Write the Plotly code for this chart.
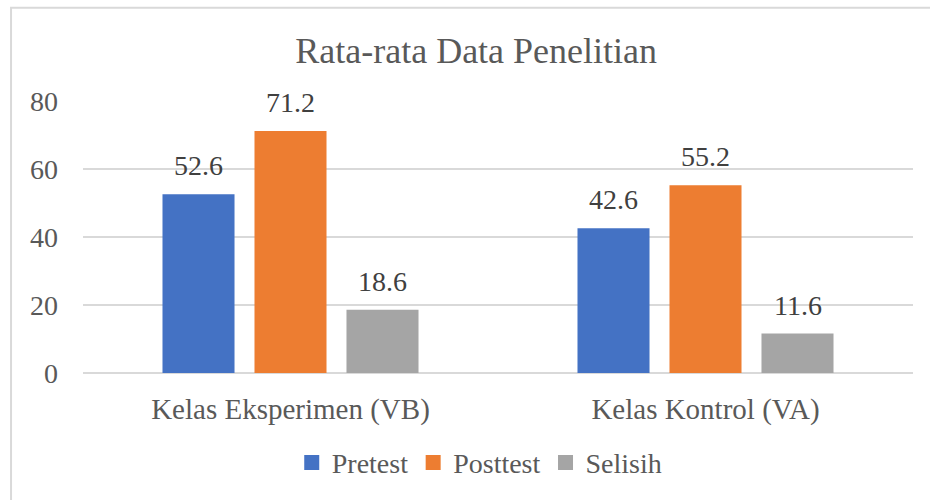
import plotly.graph_objects as go

categories = ["Kelas Eksperimen (VB)", "Kelas Kontrol (VA)"]
series_names = ["Pretest", "Posttest", "Selisih"]
pretest = [52.6, 42.6]
posttest = [71.2, 55.2]
selisih = [18.6, 11.6]
y_ticks = [0, 20, 40, 60, 80]

colors = ["#4472C4", "#ED7D31", "#A5A5A5"]
font_family = "Liberation Serif"

fig = go.Figure()
all_values = [pretest, posttest, selisih]
for name, vals, col in zip(series_names, all_values, colors):
    fig.add_trace(go.Bar(
        name=name, x=categories, y=vals, marker=dict(color=col, line=dict(width=0)),
        showlegend=False,
    ))
# legend entries with square markers
for name, col in zip(series_names, colors):
    fig.add_trace(go.Scatter(
        name=name, x=[None], y=[None], mode="markers",
        marker=dict(symbol="square", size=15, color=col), showlegend=True,
    ))

# data labels as annotations above bars
slot_px = 92
for i, vals in enumerate(all_values):
    for cat, v in zip(categories, vals):
        fig.add_annotation(
            x=cat, y=v, xref="x", yref="y", text=f"{v:.1f}", showarrow=False,
            yanchor="bottom", xshift=(i - 1) * slot_px, yshift=11,
            font=dict(family=font_family, size=28, color="#404040"),
        )

fig.add_shape(type="rect", xref="paper", yref="paper",
              x0=-0.0867, x1=1.2, y0=-0.8, y1=1.343,
              line=dict(color="#D9D9D9", width=2), fillcolor="rgba(0,0,0,0)", layer="below")

fig.update_layout(
    width=930, height=500,
    margin=dict(l=83, r=17, t=101, b=125),
    paper_bgcolor="white", plot_bgcolor="white",
    title=dict(text="Rata-rata Data Penelitian", x=0.512, xanchor="center", y=0.9, yanchor="middle",
               font=dict(family=font_family, size=36, color="#595959")),
    barmode="group", bargap=0.335, bargroupgap=0.217,
    font=dict(family=font_family, size=28, color="#595959"),
    showlegend=True,
    legend=dict(orientation="h", x=0.478, xanchor="center", y=-0.33, yanchor="middle",
                font=dict(family=font_family, size=28, color="#595959"),
                itemwidth=30, tracegroupgap=0, traceorder="normal"),
    xaxis=dict(showgrid=False, showline=False, ticks="", ticklabelstandoff=16,
               tickfont=dict(family=font_family, size=29, color="#595959")),
    yaxis=dict(range=[0, 80], tickvals=y_ticks, showgrid=True, gridcolor="#D9D9D9", gridwidth=1.5,
               zeroline=True, zerolinecolor="#D9D9D9", zerolinewidth=1.5, showline=False,
               ticks="", ticklabelstandoff=24,
               tickfont=dict(family=font_family, size=28, color="#595959")),
)

fig.write_html("out.html", config={"displayModeBar": False},
               post_script="document.body.style.margin='0';")
